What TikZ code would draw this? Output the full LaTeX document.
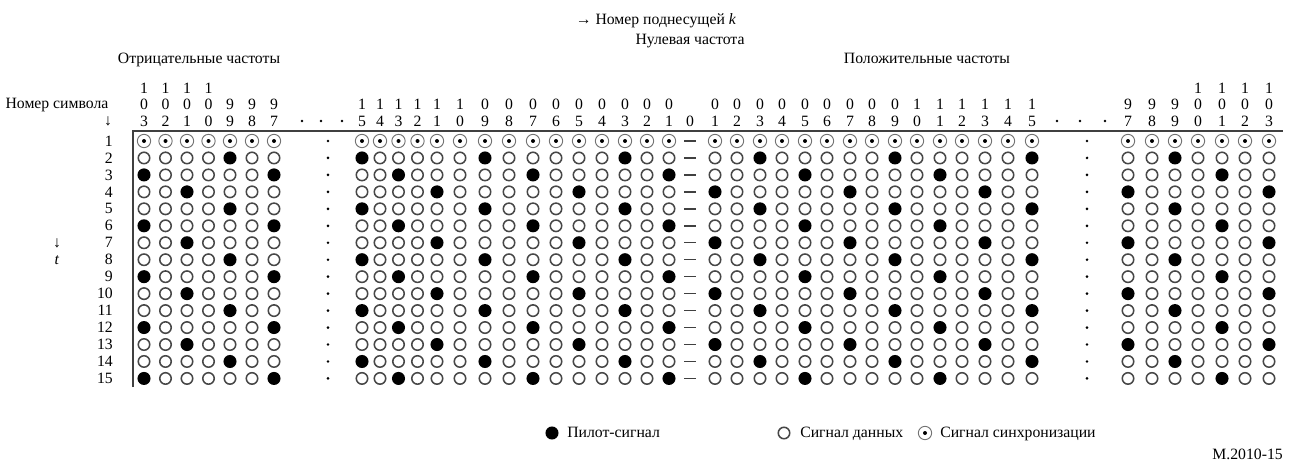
\documentclass[tikz,border=0pt]{standalone}
\usepackage{fontspec}
\setmainfont{Liberation Serif}
\begin{document}
\begin{tikzpicture}[x=0.75pt,y=-0.75pt,
  txt/.style={inner sep=0pt,font=\fontsize{11.8}{13}\selectfont},
  dat/.style={circle,draw=black!72,line width=1.15pt,minimum size=8.6pt,inner sep=0pt},
  pil/.style={circle,fill=black,minimum size=9.8pt,inner sep=0pt},
  syn/.style={circle,draw=black!55,line width=0.7pt,minimum size=10pt,inner sep=0pt},
  syndot/.style={circle,fill=black,minimum size=3pt,inner sep=0pt},
  smalldot/.style={circle,fill=black,minimum size=2.2pt,inner sep=0pt},
  axis/.style={draw=black!75,line width=1.5pt},
  zdash/.style={draw=black!75,line width=1.1pt}]
\useasboundingbox (0,0) rectangle (1290,464);
% top labels
\node[txt,anchor=base] (knum) at (656,25) {→ Номер поднесущей \textit{k}};
\node[txt,anchor=base] (zero) at (690,44) {Нулевая частота};
\node[txt,anchor=base] (neg) at (199,63) {Отрицательные частоты};
\node[txt,anchor=base] (pos) at (927,63) {Положительные частоты};
\node[txt,anchor=base] (symnum) at (57,108.5) {Номер символа};
\node[txt] (symarr) at (108,121) {↓};
\node[txt] (tarr) at (57,243) {↓};
\node[txt] (tlab) at (57,260) {\textit{t}};
% axes
\coordinate (corner) at (133,131);
\coordinate (xend) at (1283,131);
\coordinate (yend) at (133,387);
\draw[axis] (yend) -- (corner) -- (xend);
% row labels, zero column dashes, row dots
\foreach \r in {1,...,15}{
  \pgfmathsetmacro{\yy}{141+(\r-1)*16.96}
  \node[txt,anchor=east] (row-\r) at (113,\yy) {\r};
  \draw[zdash] (684,\yy) -- (696,\yy);
  \node[smalldot] (ld-\r) at (328,\yy) {};
  \node[smalldot] (rd-\r) at (1087,\yy) {};
}
\node[txt] (h0) at (690,121) {0};
% header dots
\foreach \x [count=\j] in {302,321,342,1057,1080,1105}{
  \node[smalldot] (hd-\j) at (\x,121) {};
}
% columns: x / |k| / coefficient (2 = negative, 4 = positive)
\foreach \x/\a/\c [count=\i] in {
  144/103/2, 165.5/102/2, 187/101/2, 208.5/100/2, 230/99/2, 252/98/2, 274/97/2,
  362/15/2, 380/14/2, 398.5/13/2, 417.5/12/2, 437/11/2, 460/10/2, 485/9/2, 509/8/2,
  533/7/2, 556/6/2, 579/5/2, 602/4/2, 625/3/2, 647/2/2, 669/1/2,
  715/1/4, 737/2/4, 760/3/4, 782/4/4, 805/5/4, 827/6/4, 850/7/4, 872/8/4, 895/9/4,
  917/10/4, 940/11/4, 962/12/4, 985/13/4, 1008/14/4, 1032/15/4,
  1128/97/4, 1152/98/4, 1175/99/4, 1198/100/4, 1222/101/4, 1245/102/4, 1269/103/4}{
  % header digits
  \pgfmathtruncatemacro{\un}{mod(\a,10)}
  \pgfmathtruncatemacro{\tn}{mod(int(\a/10),10)}
  \node[txt] (hu-\i) at (\x,121) {\un};
  \node[txt] (ht-\i) at (\x,104) {\tn};
  \ifnum\a>99 \node[txt] (hh-\i) at (\x,88) {1};\fi
  % sync row
  \node[syn] (s-\i) at (\x,141) {};
  \node[syndot] (sd-\i) at (\x,141) {};
  % data and pilot rows
  \foreach \r in {2,...,15}{
    \pgfmathsetmacro{\yy}{141+(\r-1)*16.96}
    \pgfmathtruncatemacro{\m}{mod(\r-2,3)}
    \pgfmathtruncatemacro{\t}{mod(\a+3+\c*\m,6)}
    \ifnum\t=0
      \node[pil] (c-\i-\r) at (\x,\yy) {};
    \else
      \node[dat] (c-\i-\r) at (\x,\yy) {};
    \fi
  }
}
% legend
\node[pil] (lp) at (552,433) {};
\node[txt,anchor=base west] (lpt) at (567,437.5) {Пилот-сигнал};
\node[dat] (ld) at (784,433) {};
\node[txt,anchor=base west] (ldt) at (800,437.5) {Сигнал данных};
\node[syn] (ls) at (925,433) {};
\node[syndot] (lsd) at (925,433) {};
\node[txt,anchor=base west] (lst) at (940,437.5) {Сигнал синхронизации};
\node[txt,anchor=base east] (fig) at (1283,459.5) {M.2010-15};
\end{tikzpicture}
\end{document}
